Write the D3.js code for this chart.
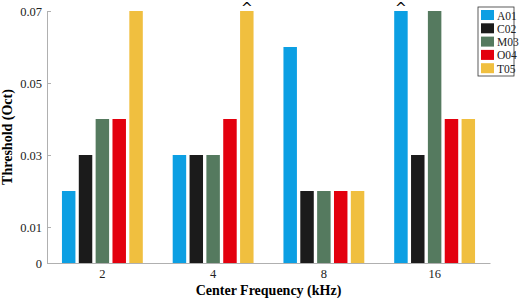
<!DOCTYPE html>
<html>
<head>
<meta charset="utf-8">
<script src="https://cdnjs.cloudflare.com/ajax/libs/d3/7.8.5/d3.min.js"></script>
<style>
  body { margin: 0; background: #fff; }
</style>
</head>
<body>
<svg id="chart" width="520" height="298"></svg>
<script>
const frequencies = ['2', '4', '8', '16'];
const subjects = ['A01', 'C02', 'M03', 'O04', 'T05'];
const A01 = [0.02, 0.03, 0.06, 0.07];
const C02 = [0.03, 0.03, 0.02, 0.03];
const M03 = [0.04, 0.03, 0.02, 0.07];
const O04 = [0.04, 0.04, 0.02, 0.04];
const T05 = [0.07, 0.07, 0.02, 0.04];
const yTicks = [0, 0.01, 0.03, 0.05, 0.07];
// bars that hit the ceiling get a caret
const capped = [{ freq: '4', subject: 'T05' }, { freq: '16', subject: 'A01' }];

const seriesValues = { A01, C02, M03, O04, T05 };
const colors = {
    A01: '#0c9fe3',
    C02: '#1b1b1b',
    M03: '#557a5f',
    O04: '#e3000e',
    T05: '#f0bf3f'
};
const serif = '"Liberation Serif", "Times New Roman", serif';

const svg = d3.select('#chart');
const margin = { top: 11, right: 30, bottom: 35, left: 47 },
    width = +svg.attr('width') - margin.left - margin.right,
    height = +svg.attr('height') - margin.top - margin.bottom;

const g = svg.append('g').attr('transform', `translate(${margin.left},${margin.top})`);

const x = d3.scaleBand().domain(frequencies).range([0, width]).paddingInner(0.27).paddingOuter(0.135);
const xs = d3.scaleBand().domain(subjects).range([0, x.bandwidth()]).paddingInner(0.2);
const y = d3.scaleLinear().domain([0, 0.07]).range([height, 0]);

const data = [];
frequencies.forEach((f, i) => {
    subjects.forEach(s => data.push({ freq: f, subject: s, value: seriesValues[s][i] }));
});

// bars
g.selectAll('.bar')
    .data(data)
    .enter().append('rect')
    .attr('class', 'bar')
    .attr('x', d => x(d.freq) + xs(d.subject))
    .attr('y', d => y(d.value))
    .attr('width', xs.bandwidth())
    .attr('height', d => y(0) - y(d.value))
    .attr('fill', d => colors[d.subject]);

// axes
const yAxis = g.append('g')
    .call(d3.axisLeft(y).tickValues(yTicks).tickFormat(d => d === 0 ? '0' : d3.format('.2f')(d)).tickSizeInner(-4).tickSizeOuter(0).tickPadding(5));
yAxis.select('.domain').attr('stroke', '#b0b0b0');
yAxis.selectAll('.tick line').attr('stroke', '#b0b0b0');
yAxis.selectAll('text').style('font-family', serif).style('font-size', '12.5px').attr('fill', '#222');

const xAxis = g.append('g')
    .attr('transform', `translate(0,${height})`)
    .call(d3.axisBottom(x).tickSize(0).tickPadding(6));
xAxis.select('.domain').attr('stroke', '#b0b0b0');
xAxis.selectAll('text').style('font-family', serif).style('font-size', '12.5px').attr('fill', '#222');

// carets
g.selectAll('.cap')
    .data(capped)
    .enter().append('text')
    .attr('x', d => x(d.freq) + xs(d.subject) + xs.bandwidth() / 2)
    .attr('y', 2)
    .attr('text-anchor', 'middle')
    .style('font-family', 'DejaVu Sans, sans-serif')
    .style('font-size', '14px')
    .text('^');

// axis labels
g.append('text')
    .attr('x', width / 2)
    .attr('y', height + 32)
    .attr('text-anchor', 'middle')
    .style('font-family', serif)
    .style('font-size', '14px')
    .style('font-weight', 'bold')
    .text('Center Frequency (kHz)');

g.append('text')
    .attr('transform', 'rotate(-90)')
    .attr('x', -height / 2)
    .attr('y', -margin.left + 12)
    .attr('text-anchor', 'middle')
    .style('font-family', serif)
    .style('font-size', '14px')
    .style('font-weight', 'bold')
    .text('Threshold (Oct)');

// legend
const legend = svg.append('g').attr('transform', 'translate(478,7)');
legend.append('rect')
    .attr('width', 36).attr('height', 69)
    .attr('fill', '#fff').attr('stroke', '#333').attr('stroke-width', 0.8);
subjects.forEach((s, i) => {
    const row = legend.append('g').attr('transform', `translate(3,${3 + i * 13.3})`);
    row.append('rect').attr('width', 13).attr('height', 10).attr('fill', colors[s]);
    row.append('text').attr('x', 16).attr('y', 9.5)
        .style('font-family', serif).style('font-size', '11.5px').attr('fill', '#222').text(s);
});
</script>
</body>
</html>
